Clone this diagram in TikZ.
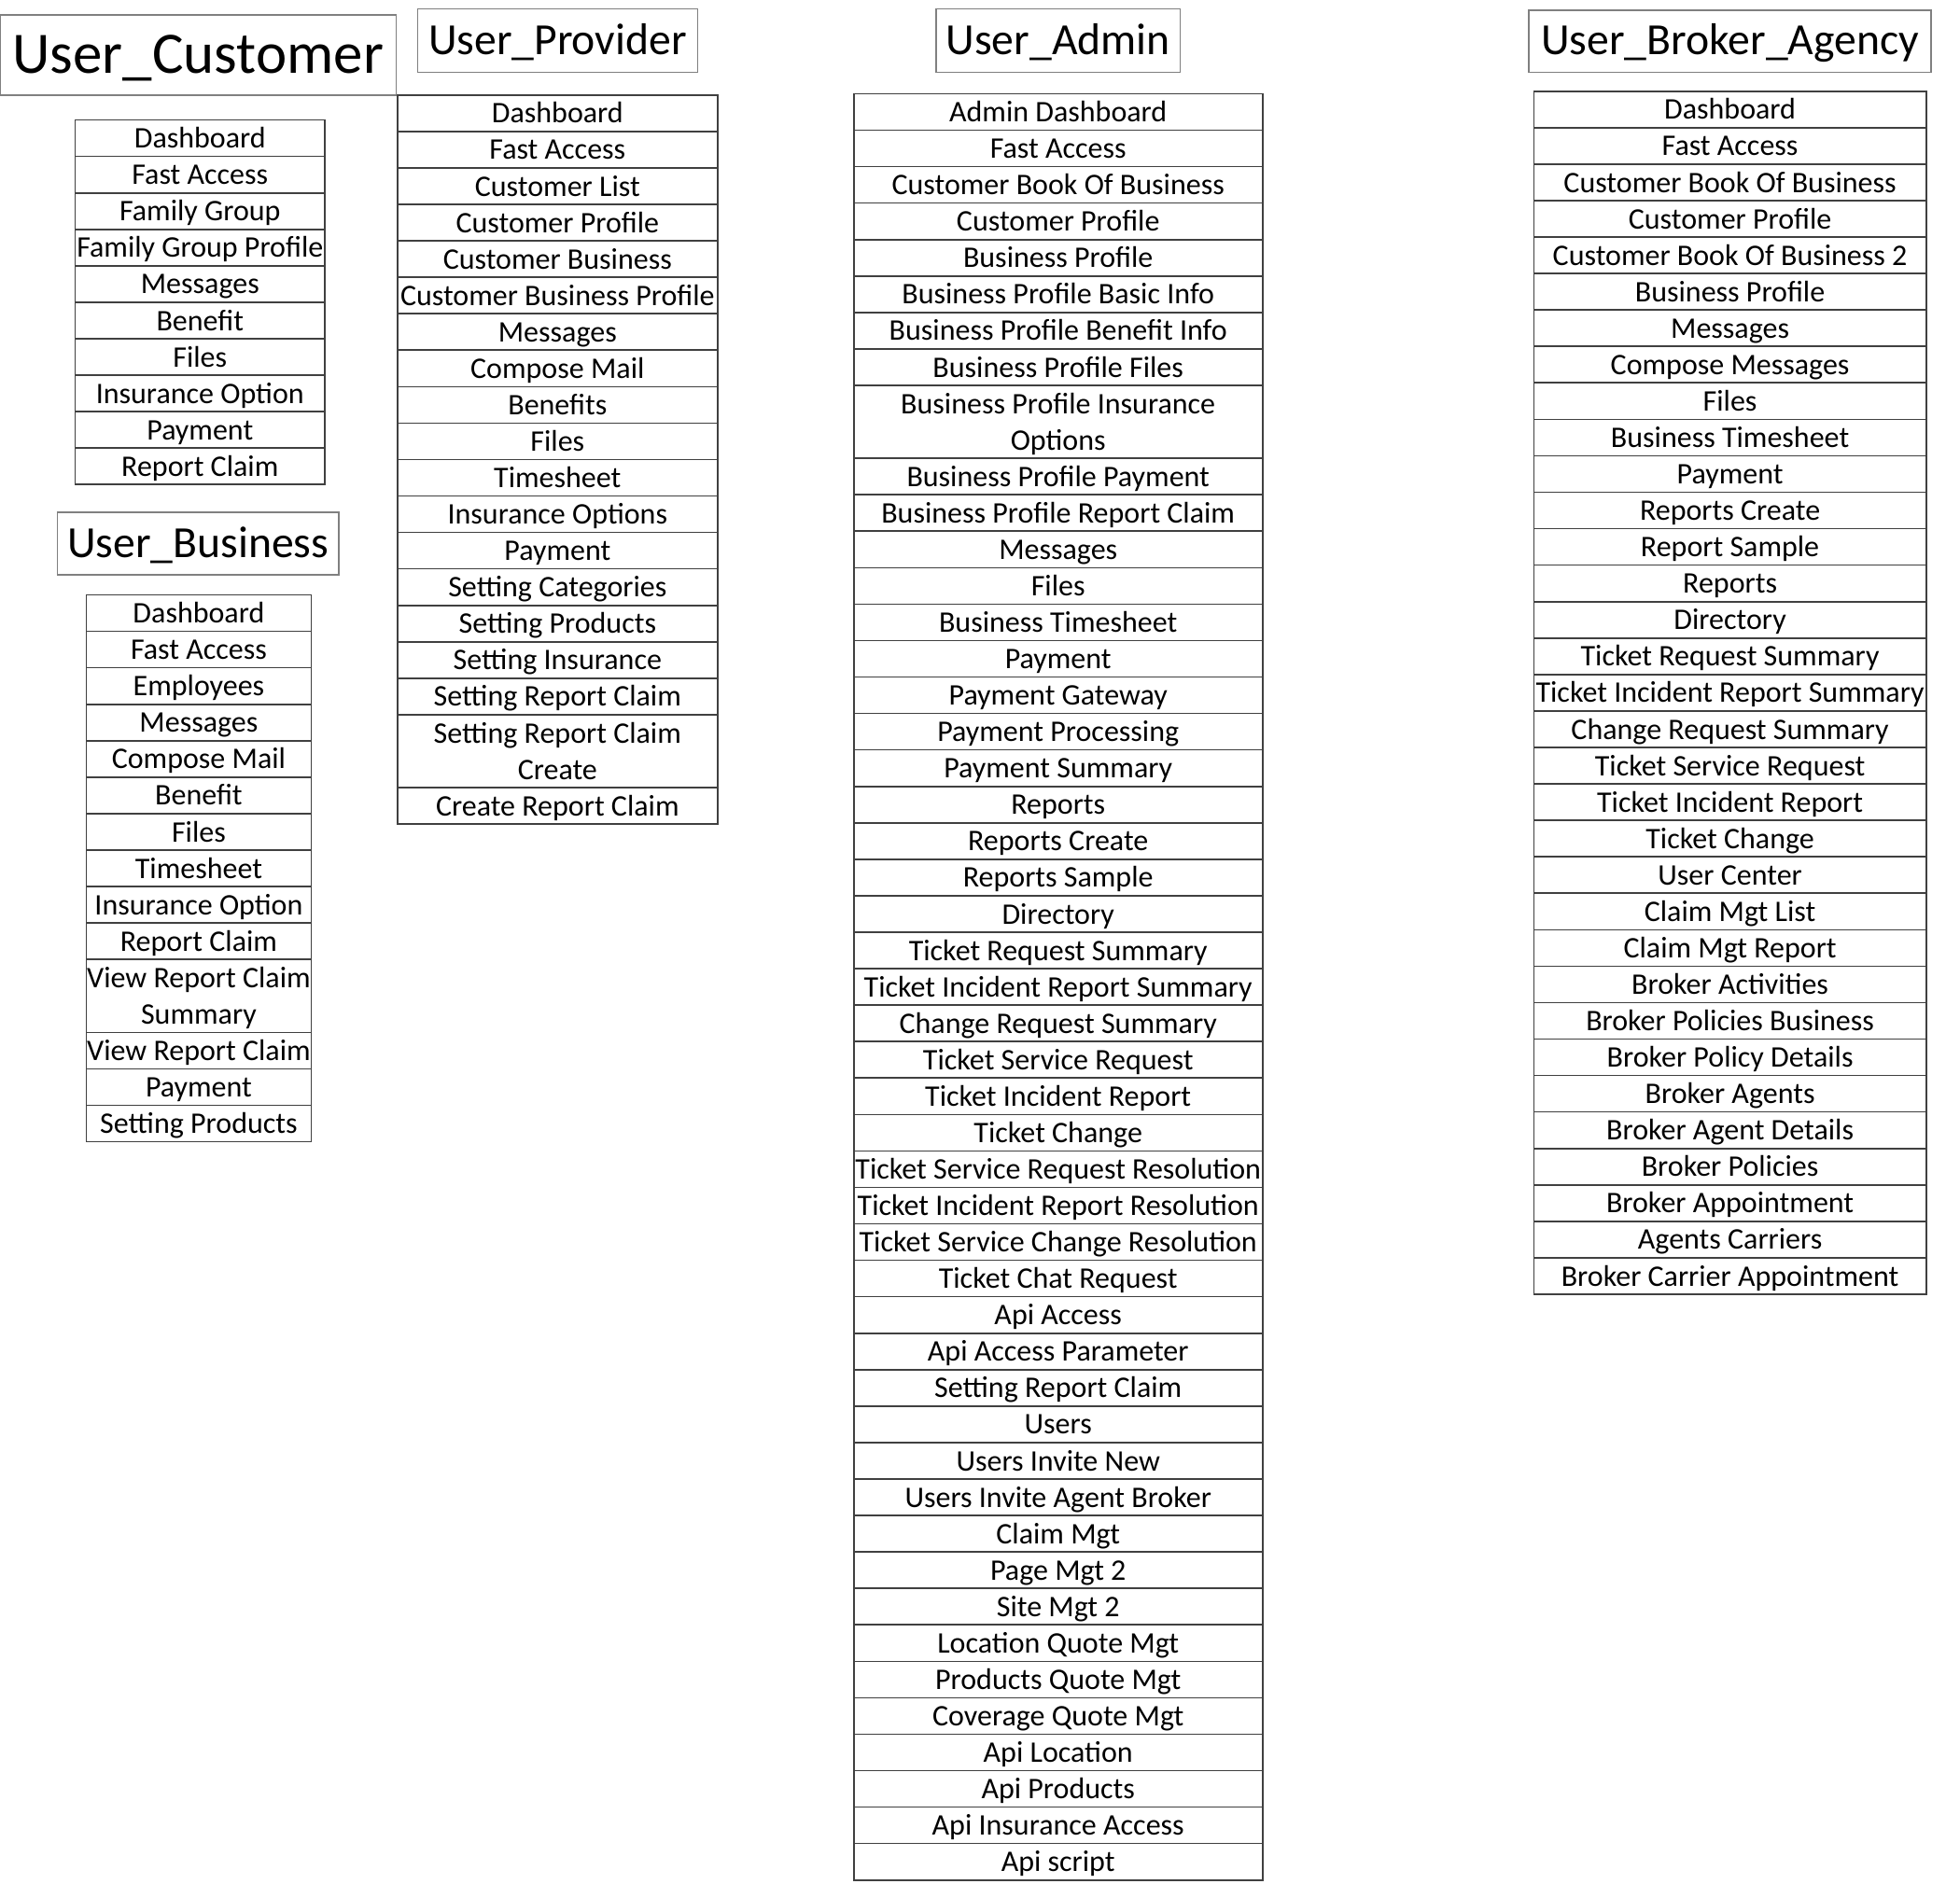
\documentclass[tikz,border=0pt]{standalone}
\usepackage{fontspec}
\setmainfont{Carlito}
\usetikzlibrary{positioning}

\newcommand{\rowh}{14.585pt}
\newcommand{\rowstrut}{\rule[-2.2pt]{0pt}{12.3pt}}
\tikzset{
  rolebox/.style={draw=gray, line width=0.6pt, inner sep=0pt, outer sep=0pt,
    text height=12.5pt, text depth=1.5pt, font=\fontsize{17.8}{20}\selectfont},
  menuitem/.style={draw=black!75, line width=0.6pt, inner sep=0pt, outer sep=0pt,
    align=center, font=\fontsize{11.95}{14.58}\selectfont},
}

\begin{document}
\begin{tikzpicture}[x=0.5pt,y=-0.5pt]
  \useasboundingbox (0,0) rectangle (1568,1518.7);

  % role titles
  \node[rolebox, minimum width=158.5pt, minimum height=32pt, text height=16.5pt, text depth=2pt,
        font=\fontsize{23.5}{26}\selectfont] (tcust) at (158.5,44) {User\_Customer};
  \node[rolebox, minimum width=112pt, minimum height=25.5pt] (tprov) at (446,32.5) {User\_Provider};
  \node[rolebox, minimum width=97.5pt, minimum height=25.5pt] (tadmin) at (846.5,32.5) {User\_Admin};
  \node[rolebox, minimum width=161pt, minimum height=25pt] (tbrok) at (1384,33) {User\_Broker\_Agency};
  \node[rolebox, minimum width=112.5pt, minimum height=25pt] (tbus) at (158.5,435) {User\_Business};

  % User_Customer
  \coordinate (cust0) at (160,96);
  \foreach \n/\txt [count=\i, remember=\i as \j (initially 0)] in
    {1/Dashboard, 1/Fast Access, 1/Family Group, 1/Family Group Profile, 1/Messages,
     1/Benefit, 1/Files, 1/Insurance Option, 1/Payment, 1/Report Claim}
    \node[menuitem, minimum width=100pt, minimum height=\n*\rowh, below=0pt of cust\j] (cust\i) {\rowstrut\txt\rowstrut};

  % User_Business
  \coordinate (bus0) at (159,476);
  \foreach \n/\txt [count=\i, remember=\i as \j (initially 0)] in
    {1/Dashboard, 1/Fast Access, 1/Employees, 1/Messages, 1/Compose Mail, 1/Benefit,
     1/Files, 1/Timesheet, 1/Insurance Option, 1/Report Claim,
     2/{View Report Claim\\Summary}, 1/View Report Claim, 1/Payment, 1/Setting Products}
    \node[menuitem, minimum width=90pt, minimum height=\n*\rowh, below=0pt of bus\j] (bus\i) {\rowstrut\txt\rowstrut};

  % User_Provider
  \coordinate (prov0) at (446,76);
  \foreach \n/\txt [count=\i, remember=\i as \j (initially 0)] in
    {1/Dashboard, 1/Fast Access, 1/Customer List, 1/Customer Profile, 1/Customer Business,
     1/Customer Business Profile, 1/Messages, 1/Compose Mail, 1/Benefits, 1/Files,
     1/Timesheet, 1/Insurance Options, 1/Payment, 1/Setting Categories, 1/Setting Products,
     1/Setting Insurance, 1/Setting Report Claim, 2/{Setting Report Claim\\Create},
     1/Create Report Claim}
    \node[menuitem, minimum width=128pt, minimum height=\n*\rowh, below=0pt of prov\j] (prov\i) {\rowstrut\txt\rowstrut};

  % User_Admin
  \coordinate (admin0) at (846.5,75);
  \foreach \n/\txt [count=\i, remember=\i as \j (initially 0)] in
    {1/Admin Dashboard, 1/Fast Access, 1/Customer Book Of Business, 1/Customer Profile,
     1/Business Profile, 1/Business Profile Basic Info, 1/Business Profile Benefit Info,
     1/Business Profile Files, 2/{Business Profile Insurance\\Options},
     1/Business Profile Payment, 1/Business Profile Report Claim, 1/Messages, 1/Files,
     1/Business Timesheet, 1/Payment, 1/Payment Gateway, 1/Payment Processing,
     1/Payment Summary, 1/Reports, 1/Reports Create, 1/Reports Sample, 1/Directory,
     1/Ticket Request Summary, 1/Ticket Incident Report Summary, 1/Change Request Summary,
     1/Ticket Service Request, 1/Ticket Incident Report, 1/Ticket Change,
     1/Ticket Service Request Resolution, 1/Ticket Incident Report Resolution,
     1/Ticket Service Change Resolution, 1/Ticket Chat Request, 1/Api Access,
     1/Api Access Parameter, 1/Setting Report Claim, 1/Users, 1/Users Invite New,
     1/Users Invite Agent Broker, 1/Claim Mgt, 1/Page Mgt 2, 1/Site Mgt 2,
     1/Location Quote Mgt, 1/Products Quote Mgt, 1/Coverage Quote Mgt, 1/Api Location,
     1/Api Products, 1/Api Insurance Access, 1/Api script}
    \node[menuitem, minimum width=163.5pt, minimum height=\n*\rowh, below=0pt of admin\j] (admin\i) {\rowstrut\txt\rowstrut};

  % User_Broker_Agency
  \coordinate (brok0) at (1384,73);
  \foreach \n/\txt [count=\i, remember=\i as \j (initially 0)] in
    {1/Dashboard, 1/Fast Access, 1/Customer Book Of Business, 1/Customer Profile,
     1/Customer Book Of Business 2, 1/Business Profile, 1/Messages, 1/Compose Messages,
     1/Files, 1/Business Timesheet, 1/Payment, 1/Reports Create, 1/Report Sample,
     1/Reports, 1/Directory, 1/Ticket Request Summary, 1/Ticket Incident Report Summary,
     1/Change Request Summary, 1/Ticket Service Request, 1/Ticket Incident Report,
     1/Ticket Change, 1/User Center, 1/Claim Mgt List, 1/Claim Mgt Report,
     1/Broker Activities, 1/Broker Policies Business, 1/Broker Policy Details,
     1/Broker Agents, 1/Broker Agent Details, 1/Broker Policies, 1/Broker Appointment,
     1/Agents Carriers, 1/Broker Carrier Appointment}
    \node[menuitem, minimum width=157pt, minimum height=\n*\rowh, below=0pt of brok\j] (brok\i) {\rowstrut\txt\rowstrut};
\end{tikzpicture}
\end{document}
